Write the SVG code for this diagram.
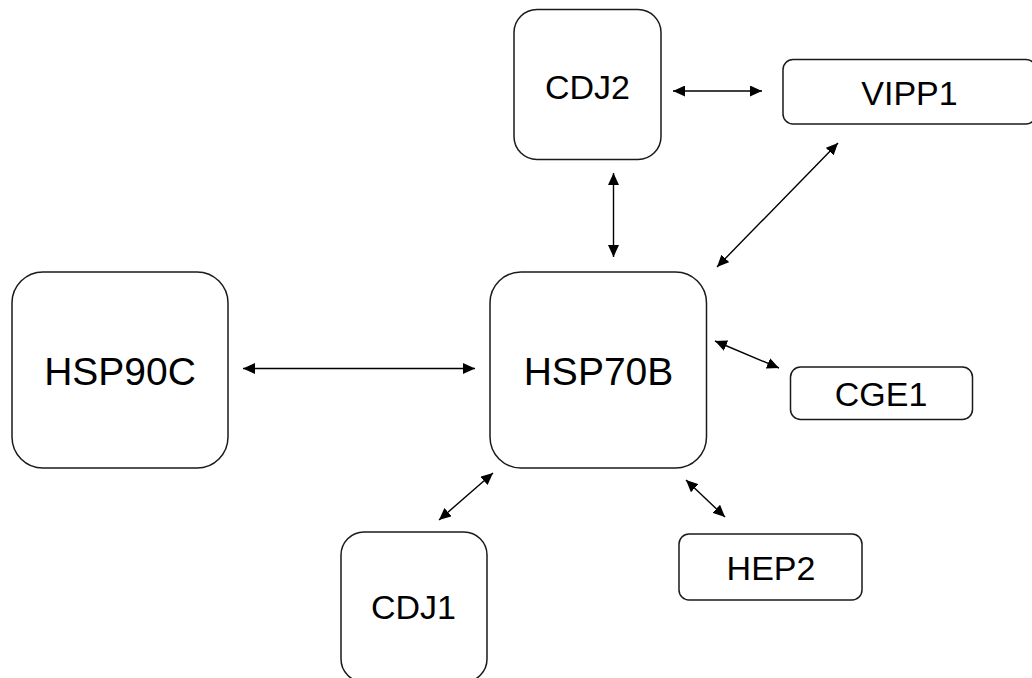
<svg xmlns="http://www.w3.org/2000/svg" width="1032" height="678" viewBox="0 0 1032 678">
<style>
.box{fill:#fff;stroke:#1a1a1a;stroke-width:1.5}
.lbl{font-family:"Liberation Sans",Arial,sans-serif;fill:#000;text-anchor:middle}
.big{font-size:39px}
.sm{font-size:34px}
.edge{stroke:#000;stroke-width:1.4;fill:none;marker-start:url(#ah);marker-end:url(#ah)}
</style>
<defs>
<marker id="ah" viewBox="0 0 12 11" refX="12" refY="5.5" markerWidth="12" markerHeight="11" markerUnits="userSpaceOnUse" orient="auto-start-reverse">
<path d="M0,0 L12,5.5 L0,11 z" fill="#000"/>
</marker>
</defs>
<rect width="1032" height="678" fill="#fff"/>
<g id="connectors">
<line class="edge" x1="243" y1="368.5" x2="475" y2="368.5"/>
<line class="edge" x1="613.5" y1="173" x2="613.5" y2="257"/>
<line class="edge" x1="673" y1="91" x2="762" y2="91"/>
<line class="edge" x1="717" y1="267" x2="838" y2="143"/>
<line class="edge" x1="715" y1="341" x2="779" y2="368"/>
<line class="edge" x1="493" y1="473" x2="439" y2="520"/>
<line class="edge" x1="686" y1="480" x2="725" y2="517"/>
</g>
<g id="HSP90C">
<rect class="box" x="12" y="272" width="216" height="196" rx="31" ry="31"/>
<text class="lbl big" x="120" y="384.5">HSP90C</text>
</g>
<g id="HSP70B">
<rect class="box" x="490" y="272" width="216.5" height="196" rx="31" ry="31"/>
<text class="lbl big" x="598.5" y="384.5">HSP70B</text>
</g>
<g id="CDJ2">
<rect class="box" x="514" y="9.5" width="147" height="150" rx="23" ry="23"/>
<text class="lbl sm" x="587.5" y="98.5">CDJ2</text>
</g>
<g id="VIPP1">
<rect class="box" x="783" y="59.5" width="253" height="64.5" rx="10" ry="10"/>
<text class="lbl sm" x="909.5" y="105">VIPP1</text>
</g>
<g id="CGE1">
<rect class="box" x="790.5" y="367" width="182" height="52.5" rx="10" ry="10"/>
<text class="lbl sm" x="881" y="405.5">CGE1</text>
</g>
<g id="HEP2">
<rect class="box" x="679" y="534" width="183" height="66" rx="10" ry="10"/>
<text class="lbl sm" x="771" y="580">HEP2</text>
</g>
<g id="CDJ1">
<rect class="box" x="341" y="532" width="146" height="150" rx="23" ry="23"/>
<text class="lbl sm" x="413.5" y="619">CDJ1</text>
</g>
</svg>
